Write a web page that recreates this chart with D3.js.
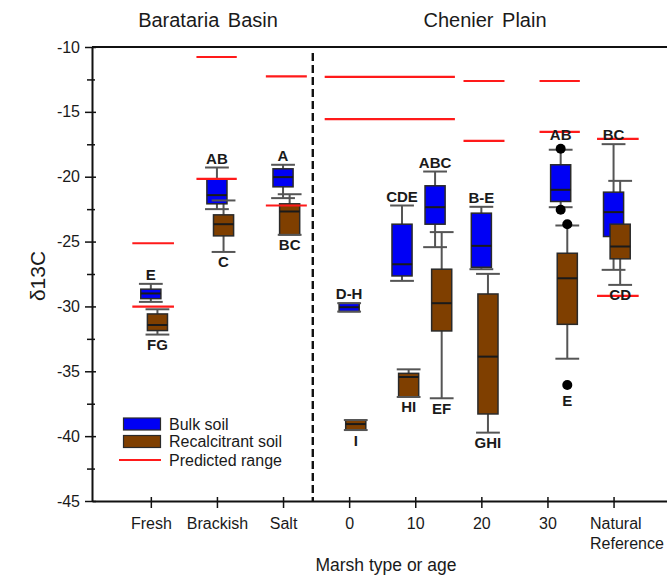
<!DOCTYPE html>
<html>
<head>
<meta charset="utf-8">
<script src="https://cdn.jsdelivr.net/npm/d3@7"></script>
<style>
  body { margin: 0; background: #fff; }
  svg { display: block; }
  text { font-family: "Liberation Sans", Arial, Helvetica, sans-serif; fill: #1a1a1a; }
</style>
</head>
<body>
<svg id="chart" width="667" height="575"></svg>
<script>
// Marsh type / age categories along the x axis
const categories = ["Fresh", "Brackish", "Salt", "0", "10", "20", "30", "Natural\nReference"];

// Position of each sampled site on the category axis (two sites at age 10)
const sitePositions = [0, 1, 2, 3, 3.8, 4.3, 5, 6.2, 7];

// Box statistics per site: [lower whisker, Q1, median, Q3, upper whisker] (δ13C, ‰)
const bulkStats = [
  [-29.65, -29.40, -29.00, -28.67, -28.26],
  [-22.50, -22.09, -21.42, -20.19, -19.29],
  [-21.65, -20.78, -20.03, -19.39, -19.08],
  [-30.40, -30.40, -30.06, -29.75, -29.75],
  [-28.03, -27.65, -26.75, -23.66, -22.22],
  [-25.43, -23.66, -22.35, -20.70, -19.60],
  [-27.13, -26.98, -25.33, -22.81, -22.32],
  [-22.35, -21.91, -21.01, -19.08, -17.92],
  [-27.18, -24.61, -22.73, -21.19, -17.49]
];
const recalcitrantStats = [
  [-32.17, -31.86, -31.43, -30.58, -30.22],
  [-25.80, -24.56, -23.66, -22.94, -21.83],
  [-24.48, -24.48, -22.68, -22.09, -21.35],
  [-39.53, -39.53, -39.07, -38.76, -38.76],
  [-36.98, -36.98, -35.44, -35.16, -34.85],
  [-37.08, -31.89, -29.75, -27.13, -24.27],
  [-39.73, -38.29, -33.87, -29.04, -27.49],
  [-34.03, -31.38, -27.83, -25.90, -23.76],
  [-28.34, -26.33, -25.38, -23.66, -20.32]
];

// Outlying observations
const bulkOutliers = [[], [], [], [], [], [], [], [-17.85, -22.55], []];
const recalcitrantOutliers = [[], [], [], [], [], [], [], [-23.66, -36.06], []];

// Significance letters (bulk above, recalcitrant below)
const bulkLetters = ["E", "AB", "A", "D-H", "CDE", "ABC", "B-E", "AB", "BC"];
const recalcitrantLetters = ["FG", "C", "BC", "I", "HI", "EF", "GHI", "E", "CD"];

// Predicted δ13C range limits, spanning category-axis positions
const predictedFrom  = [-0.28, -0.28, 0.69, 0.69, 1.74, 1.74, 2.63, 2.63, 4.73, 4.73, 5.88, 5.88, 6.75, 6.75];
const predictedTo    = [0.35, 0.35, 1.30, 1.30, 2.36, 2.36, 4.60, 4.60, 5.35, 5.35, 6.49, 6.49, 7.38, 7.38];
const predictedValue = [-25.13, -30.01, -10.77, -20.16, -12.27, -22.22, -12.31, -15.56, -12.62, -17.23, -12.62, -16.54, -17.08, -29.19];

const yMajorTicks = [-45, -40, -35, -30, -25, -20, -15, -10];
const yMinorTicks = [-42.5, -37.5, -32.5, -27.5, -22.5, -17.5, -12.5];

const regionTitles = ["Barataria Basin", "Chenier Plain"];

const svg = d3.select("#chart");
const W = 667, H = 575;
svg.append("rect").attr("width", W).attr("height", H).attr("fill", "#fff");

const plotLeft = 92, plotRight = 679, plotTop = 47, plotBottom = 501;
const x = d3.scaleLinear().domain([-0.89, 7.99]).range([plotLeft, plotRight]);
const y = d3.scaleLinear().domain([-45, -10]).range([plotBottom, plotTop]);

const boxHalf = 0.152;   // half box width in category units
const capHalf = 0.18;
const seriesShift = 0.1; // recalcitrant boxes sit slightly right of bulk boxes

const series = [
  { stats: bulkStats, outliers: bulkOutliers, letters: bulkLetters, fill: "#0000f5", shift: 0, above: true },
  { stats: recalcitrantStats, outliers: recalcitrantOutliers, letters: recalcitrantLetters, fill: "#7f3f00", shift: seriesShift, above: false }
];

// Frame: top border line
svg.append("line").attr("x1", plotLeft).attr("x2", plotRight).attr("y1", plotTop).attr("y2", plotTop)
  .attr("stroke", "#111").attr("stroke-width", 2);

// Region separator
svg.append("line").attr("x1", x(2.45)).attr("x2", x(2.45)).attr("y1", plotTop + 6).attr("y2", plotBottom)
  .attr("stroke", "#111").attr("stroke-width", 2.4).attr("stroke-dasharray", "8,4");

// Y axis (plain hyphen-minus in labels)
const yAxis = svg.append("g").attr("transform", `translate(${plotLeft},0)`)
  .call(d3.axisLeft(y).tickValues(yMajorTicks).tickSizeInner(7).tickSizeOuter(0).tickPadding(5).tickFormat(d => String(d)));
yAxis.selectAll(".tick line").attr("x2", -7).attr("x1", 4);
const yMinor = svg.append("g").attr("transform", `translate(${plotLeft},0)`)
  .call(d3.axisLeft(y).tickValues(yMinorTicks).tickSizeInner(5).tickSizeOuter(0).tickFormat(""));
yMinor.select(".domain").remove();
yMinor.selectAll(".tick line").attr("x1", 3);

// X axis
const xAxis = svg.append("g").attr("transform", `translate(0,${plotBottom})`)
  .call(d3.axisBottom(x).tickValues(d3.range(categories.length)).tickSizeInner(7).tickSizeOuter(0).tickPadding(10)
    .tickFormat(i => categories[i]));
xAxis.selectAll(".tick line").attr("y1", -4);
xAxis.selectAll(".tick text").each(function (i) {
  const lines = categories[i].split("\n");
  if (lines.length > 1) {
    const t = d3.select(this).text(null).attr("text-anchor", "start");
    lines.forEach((ln, k) => t.append("tspan").attr("x", -24).attr("dy", k === 0 ? "0.71em" : "1.25em").text(ln));
  }
});

[yAxis, yMinor, xAxis].forEach(g => {
  g.selectAll(".domain").attr("stroke", "#111").attr("stroke-width", 2);
  g.selectAll(".tick line").attr("stroke", "#111").attr("stroke-width", 1.5);
  g.selectAll(".tick text").attr("font-size", 16).attr("fill", "#1a1a1a")
    .attr("font-family", "\"Liberation Sans\", Arial, sans-serif");
});

// Whiskers (vertical stems) first, boxes over them, caps last
const layers = { stems: svg.append("g"), boxes: svg.append("g"), caps: svg.append("g"), predicted: svg.append("g"), dots: svg.append("g"), letters: svg.append("g") };

series.forEach(s => {
  s.stats.forEach((st, i) => {
    const cx = sitePositions[i] + s.shift;
    const [lo, q1, med, q3, hi] = st;
    layers.stems.append("line").attr("x1", x(cx)).attr("x2", x(cx)).attr("y1", y(hi)).attr("y2", y(q3))
      .attr("stroke", "#555").attr("stroke-width", 2);
    layers.stems.append("line").attr("x1", x(cx)).attr("x2", x(cx)).attr("y1", y(q1)).attr("y2", y(lo))
      .attr("stroke", "#555").attr("stroke-width", 2);
    [lo, hi].forEach(v => layers.caps.append("line")
      .attr("x1", x(cx - capHalf)).attr("x2", x(cx + capHalf)).attr("y1", y(v)).attr("y2", y(v))
      .attr("stroke", "#555").attr("stroke-width", 2));
  });
});

series.forEach(s => {
  s.stats.forEach((st, i) => {
    const cx = sitePositions[i] + s.shift;
    const [lo, q1, med, q3, hi] = st;
    layers.boxes.append("rect").attr("x", x(cx - boxHalf)).attr("width", x(cx + boxHalf) - x(cx - boxHalf))
      .attr("y", y(q3)).attr("height", Math.max(y(q1) - y(q3), 1))
      .attr("fill", s.fill).attr("stroke", "#2a2a2a").attr("stroke-width", 1.5);
    layers.boxes.append("line").attr("x1", x(cx - boxHalf)).attr("x2", x(cx + boxHalf)).attr("y1", y(med)).attr("y2", y(med))
      .attr("stroke", "#1a1a1a").attr("stroke-width", 2);
  });
});

// Predicted ranges
predictedValue.forEach((v, k) => {
  layers.predicted.append("line").attr("x1", x(predictedFrom[k])).attr("x2", x(predictedTo[k]))
    .attr("y1", y(v)).attr("y2", y(v)).attr("stroke", "#ff1a1a").attr("stroke-width", 2.2);
});

// Outliers and letters
const dotR = 5;
series.forEach(s => {
  s.stats.forEach((st, i) => {
    const cx = sitePositions[i] + s.shift;
    s.outliers[i].forEach(v => layers.dots.append("circle").attr("cx", x(cx)).attr("cy", y(v)).attr("r", dotR).attr("fill", "#000"));
    let ly;
    if (s.above) {
      ly = d3.min([y(st[4]), ...s.outliers[i].map(v => y(v) - dotR)]) - 4;
    } else {
      ly = d3.max([y(st[0]), ...s.outliers[i].map(v => y(v) + dotR)]) + 15.5;
    }
    layers.letters.append("text").attr("x", x(cx)).attr("y", ly).attr("text-anchor", "middle")
      .attr("font-size", 15).attr("font-weight", "bold").text(s.letters[i]);
  });
});

// Region titles
svg.append("text").attr("x", 208).attr("y", 27).attr("text-anchor", "middle").attr("font-size", 20)
  .attr("word-spacing", 3).text(regionTitles[0]);
svg.append("text").attr("x", 485).attr("y", 27).attr("text-anchor", "middle").attr("font-size", 20)
  .attr("word-spacing", 3).text(regionTitles[1]);

// Axis titles
svg.append("text").attr("transform", "translate(45,276) rotate(-90)").attr("text-anchor", "middle")
  .attr("font-size", 21).text("δ13C");
svg.append("text").attr("x", 386).attr("y", 571).attr("text-anchor", "middle").attr("font-size", 17.5)
  .text("Marsh type or age");

// Legend
const legend = svg.append("g");
const legendItems = [
  { label: "Bulk soil", kind: "box", fill: "#0000f5", cy: 424 },
  { label: "Recalcitrant soil", kind: "box", fill: "#7f3f00", cy: 441.5 },
  { label: "Predicted range", kind: "line", fill: "#ff1a1a", cy: 460 }
];
legendItems.forEach(it => {
  if (it.kind === "box") {
    legend.append("rect").attr("x", 123.5).attr("y", it.cy - 6).attr("width", 37).attr("height", 12)
      .attr("fill", it.fill).attr("stroke", "#2a2a2a").attr("stroke-width", 1.2);
  } else {
    legend.append("line").attr("x1", 119).attr("x2", 161).attr("y1", it.cy).attr("y2", it.cy)
      .attr("stroke", it.fill).attr("stroke-width", 2);
  }
  legend.append("text").attr("x", 169).attr("y", it.cy + 5.5).attr("font-size", 16).text(it.label);
});
</script>
</body>
</html>
